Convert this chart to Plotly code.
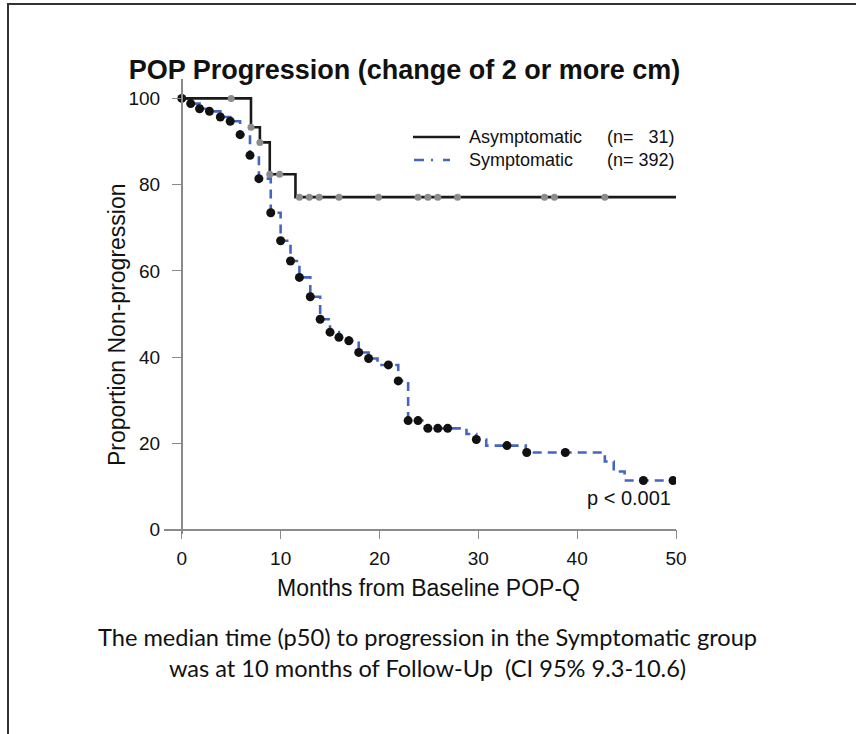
import numpy as np
import plotly.graph_objects as go

# Kaplan-Meier step data (months, % non-progression)
asym_t = [0, 7.0, 7.9, 8.9, 11.5, 50]
asym_s = [100, 93.3, 89.8, 82.4, 77.1, 77.1]
asym_censor_t = [5.0, 7.0, 7.9, 8.9, 9.9, 11.9, 12.9, 13.9, 15.9, 19.9,
                 23.9, 24.9, 25.9, 27.9, 36.7, 37.7, 42.8]

sym_t = [0, 0.9, 1.8, 2.8, 3.9, 4.9, 5.9, 6.9, 7.8, 9.0, 10.0, 11.0, 11.9,
         13.0, 14.0, 15.0, 15.9, 16.9, 17.9, 18.9, 19.8, 21.9, 22.9, 24.6,
         28.8, 29.8, 30.8, 34.8, 42.8, 43.7, 44.8, 50]
sym_s = [100, 98.8, 97.6, 97.0, 95.7, 94.7, 91.6, 86.8, 81.4, 73.5, 67.0,
         62.3, 58.5, 54.0, 48.8, 45.8, 44.6, 43.8, 41.1, 39.7, 38.2, 34.5,
         25.3, 23.5, 22.2, 20.9, 19.5, 17.9, 15.8, 13.5, 11.4, 11.4]
sym_mark_t = [0, 0.9, 1.8, 2.8, 3.9, 4.9, 5.9, 6.9, 7.8, 9.0, 10.0, 11.0,
              11.9, 13.0, 14.0, 15.0, 15.9, 16.9, 17.9, 18.9, 20.9, 21.9,
              22.9, 23.9, 24.9, 25.9, 26.9, 29.8, 32.9, 34.9, 38.8, 46.7, 49.7]

x_ticks = [0, 10, 20, 30, 40, 50]
y_ticks = [0, 20, 40, 60, 80, 100]


def step_value(times, surv, at):
    """Right-continuous step-function lookup."""
    idx = np.searchsorted(np.asarray(times), np.asarray(at), side="right") - 1
    return list(np.asarray(surv)[idx])


BLUE = "#4466c0"
AXIS = "#8a8a8a"
FONT = "Liberation Sans, Arial, sans-serif"

fig = go.Figure()

fig.add_trace(go.Scatter(x=sym_t, y=sym_s, mode="lines", line_shape="hv",
                         line=dict(color=BLUE, width=2.6, dash="9px,6px"),
                         hoverinfo="skip"))
fig.add_trace(go.Scatter(x=sym_mark_t, y=step_value(sym_t, sym_s, sym_mark_t),
                         mode="markers",
                         marker=dict(color="#111111", size=9)))
fig.add_trace(go.Scatter(x=asym_t, y=asym_s, mode="lines", line_shape="hv",
                         line=dict(color="#1a1a1a", width=2.6)))
fig.add_trace(go.Scatter(x=asym_censor_t,
                         y=step_value(asym_t, asym_s, asym_censor_t),
                         mode="markers",
                         marker=dict(color="#8c8c8c", size=7)))

X0, X1 = -1.8, 50
Y0, Y1 = -1.0, 104.5

fig.update_layout(
    width=856, height=734,
    margin=dict(l=164, r=180, t=79, b=200),
    paper_bgcolor="white", plot_bgcolor="white",
    showlegend=False,
    font=dict(family=FONT, color="#111111"),
    title=dict(text="<b>POP Progression (change of 2 or more cm)</b>",
               x=(404.5 / 856), xanchor="center", y=1 - 70 / 734,
               yanchor="middle",
               font=dict(size=27, family=FONT, color="#111111")),
    xaxis=dict(range=[X0, X1], tickvals=x_ticks, showgrid=False,
               zeroline=False, showline=True, linecolor=AXIS, linewidth=1.6,
               ticks="outside", ticklen=9, tickcolor=AXIS, tickwidth=1.4,
               anchor="free", position=(0 - Y0) / (Y1 - Y0),
               tickfont=dict(size=19), ticklabelstandoff=3),
    yaxis=dict(range=[Y0, Y1], tickvals=y_ticks, showgrid=False,
               zeroline=False, showline=True, linecolor=AXIS, linewidth=1.6,
               ticks="outside", ticklen=9, tickcolor=AXIS, tickwidth=1.4,
               anchor="free", position=(0 - X0) / (X1 - X0),
               tickfont=dict(size=19), ticklabelstandoff=8),
)


def px_x(p):
    return (p - 164) / 512


def px_y(p):
    return (534 - p) / 455


# Axis titles
fig.add_annotation(text="Months from Baseline POP-Q", xref="paper",
                   yref="paper", x=px_x(428.5), y=px_y(588),
                   xanchor="center", yanchor="middle", showarrow=False,
                   font=dict(size=23, family=FONT))
fig.add_annotation(text="Proportion Non-progression", xref="paper",
                   yref="paper", x=px_x(117), y=px_y(325), textangle=-90,
                   xanchor="center", yanchor="middle", showarrow=False,
                   font=dict(size=23, family=FONT))

# Legend drawn as sample lines plus labels
fig.add_shape(type="line", xref="paper", yref="paper",
              x0=px_x(413), x1=px_x(460), y0=px_y(137), y1=px_y(137),
              line=dict(color="#1a1a1a", width=2.6))
fig.add_shape(type="line", xref="paper", yref="paper",
              x0=px_x(414), x1=px_x(452), y0=px_y(160), y1=px_y(160),
              line=dict(color=BLUE, width=2.6, dash="10px,7px,2px"))
legend_rows = [("Asymptomatic", "(n=   31)", 137),
               ("Symptomatic", "(n= 392)", 160)]
for name, count, py in legend_rows:
    fig.add_annotation(text=name, xref="paper", yref="paper",
                       x=px_x(467), y=px_y(py), xanchor="left",
                       yanchor="middle", showarrow=False,
                       font=dict(size=18, family=FONT))
    fig.add_annotation(text=count, xref="paper", yref="paper",
                       x=px_x(677), y=px_y(py), xanchor="right",
                       yanchor="middle", showarrow=False,
                       font=dict(size=18, family=FONT))

fig.add_annotation(text="p < 0.001", xref="paper", yref="paper",
                   x=px_x(673), y=px_y(498), xanchor="right",
                   yanchor="middle", showarrow=False,
                   font=dict(size=20, family=FONT))

fig.add_annotation(
    text="The median time (p50) to progression in the Symptomatic group<br>"
         "was at 10 months of Follow-Up  (CI 95% 9.3-10.6)",
    xref="paper", yref="paper", x=px_x(427), y=px_y(652),
    xanchor="center", yanchor="middle", showarrow=False, align="center",
    font=dict(size=23.6, family="Lato, Carlito, sans-serif",
              color="#111111"))

# Frame around the figure
fig.add_shape(type="rect", xref="paper", yref="paper",
              x0=px_x(8), x1=px_x(900), y0=px_y(780), y1=px_y(4),
              line=dict(color="#333333", width=2))

fig.write_html("out.html")
